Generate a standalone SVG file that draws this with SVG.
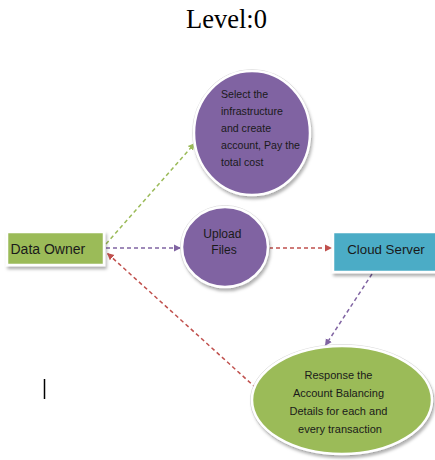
<svg xmlns="http://www.w3.org/2000/svg" width="435" height="460" viewBox="0 0 435 460">
<defs>
<style>
.title{font-family:"Liberation Serif","Times New Roman",serif;font-size:26.5px;fill:#000}
.lbl{font-family:"Liberation Sans",Arial,sans-serif;fill:#1a1a1a}
.box{font-size:14px}
.c1{font-size:10.6px}
.c2{font-size:12px}
.c3{font-size:11px}
.node{stroke:#fff;stroke-width:2.5;filter:url(#sh)}
.ring{fill:none;stroke:#d4d4d4;stroke-width:0.8}
.edge{fill:none;stroke-width:1.5;stroke-dasharray:4 3}
.g{stroke:#9bbb59}
.p{stroke:#8064a2}
.r{stroke:#c0504d}
</style>
<filter id="sh" x="-20%" y="-20%" width="140%" height="150%">
<feDropShadow dx="1.5" dy="3" stdDeviation="1.5" flood-color="#000" flood-opacity="0.3"/>
</filter>
<marker id="mg" markerWidth="8" markerHeight="8" refX="7" refY="4" orient="auto" markerUnits="userSpaceOnUse"><path d="M0,0.5 L7,4 L0,7.5 Z" fill="#9bbb59"/></marker>
<marker id="mp" markerWidth="8" markerHeight="8" refX="7" refY="4" orient="auto" markerUnits="userSpaceOnUse"><path d="M0,0.5 L7,4 L0,7.5 Z" fill="#8064a2"/></marker>
<marker id="mr" markerWidth="8" markerHeight="8" refX="7" refY="4" orient="auto" markerUnits="userSpaceOnUse"><path d="M0,0.5 L7,4 L0,7.5 Z" fill="#c0504d"/></marker>
</defs>
<rect width="435" height="460" fill="#fff"/>
<text class="title" x="226.5" y="28" text-anchor="middle">Level:0</text>

<g id="edges">
<line class="edge g" x1="106" y1="244" x2="195" y2="143" marker-end="url(#mg)"/>
<line class="edge p" x1="106" y1="248" x2="181" y2="248" marker-end="url(#mp)"/>
<line class="edge r" x1="269" y1="248" x2="332" y2="248" marker-end="url(#mr)"/>
<line class="edge p" x1="372" y1="274" x2="325" y2="346" marker-end="url(#mp)"/>
<line class="edge r" x1="256" y1="388" x2="107" y2="253" marker-end="url(#mr)"/>
</g>

<g id="select">
<ellipse class="ring" cx="252" cy="133" rx="59.5" ry="63.5"/>
<ellipse class="node" cx="252" cy="133" rx="58" ry="62" fill="#8064a2"/>
<text class="lbl c1">
<tspan x="221" y="98">Select the</tspan>
<tspan x="221" y="115">infrastructure</tspan>
<tspan x="221" y="132">and create</tspan>
<tspan x="221" y="149">account, Pay the</tspan>
<tspan x="221" y="166">total cost</tspan>
</text>
</g>

<g id="dataowner">
<rect class="node" x="7" y="232" width="97" height="33" fill="#9bbb59"/>
<text class="lbl box" x="10.5" y="254">Data Owner</text>
</g>

<g id="upload">
<ellipse class="ring" cx="225" cy="247" rx="44.5" ry="41.5"/>
<ellipse class="node" cx="225" cy="247" rx="43" ry="40" fill="#8064a2"/>
<text class="lbl c2" text-anchor="middle">
<tspan x="224" y="238">Upload</tspan>
<tspan x="224" y="254">Files</tspan>
</text>
</g>

<g id="cloud">
<rect class="node" x="333" y="232" width="110" height="40" fill="#4bacc6"/>
<text class="lbl box" x="386" y="254" text-anchor="middle" style="font-size:13.3px">Cloud Server</text>
</g>

<g id="response">
<ellipse class="ring" cx="342" cy="400" rx="91.5" ry="55.5"/>
<ellipse class="node" cx="342" cy="400" rx="90" ry="54" fill="#9bbb59"/>
<text class="lbl c3" text-anchor="middle">
<tspan x="340" y="379">Response the</tspan>
<tspan x="340" y="397">Account Balancing</tspan>
<tspan x="340" y="415">Details for each and</tspan>
<tspan x="340" y="433">every transaction</tspan>
</text>
</g>

<line x1="44.5" y1="379" x2="44.5" y2="399" stroke="#000" stroke-width="1.5"/>
</svg>
